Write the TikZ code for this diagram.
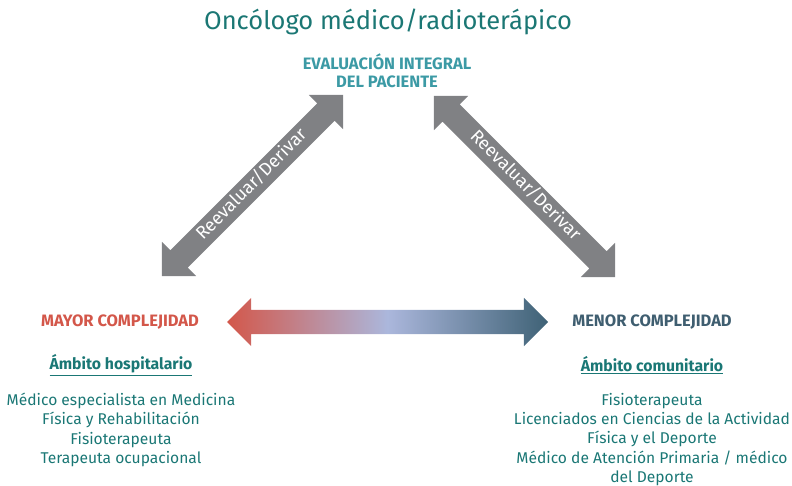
\documentclass[tikz,border=0pt]{standalone}
\usepackage{fontspec}
\setmainfont{Fira Sans}
\usetikzlibrary{shapes.arrows}

\definecolor{titleteal}{HTML}{1B7774}
\definecolor{headteal}{HTML}{3C9AA5}
\definecolor{listteal}{HTML}{1A7775}
\definecolor{mayorred}{HTML}{D3574A}
\definecolor{menorslate}{HTML}{3F5E70}
\definecolor{arrowgray}{HTML}{808184}
\definecolor{midlilac}{HTML}{ABB7DC}
\definecolor{endslate}{HTML}{3F6276}

\begin{document}
\begin{tikzpicture}[x=1pt,y=-1pt,
    label/.style={align=center,inner sep=0pt},
    bigarrow/.style={shape=double arrow,inner xsep=0pt,inner ysep=4pt,minimum width=0pt,
        text height=12pt,text depth=4pt,double arrow head extend=12pt},
    grayarrow/.style={bigarrow,fill=arrowgray,minimum height=256pt,
        text=white,font=\fontsize{18}{18}\selectfont},
    listtext/.style={label,text=listteal,font=\fontsize{15.6}{19.3}\selectfont}]
    \useasboundingbox (0,0) rectangle (792,486);

    \node[label,text=titleteal,font=\fontsize{25.5}{25.5}\selectfont] (title) at (388,22) {Oncólogo médico/radioterápico};
    \node[label,text=headteal,font=\bfseries\fontsize{16.5}{18}\selectfont] (eval) at (387,71) {EVALUACIÓN INTEGRAL\\DEL PACIENTE};

    % diagonal arrows
    \node[grayarrow,rotate=45] (left) at (252.5,185.5) {Reevaluar/Derivar};
    \node[grayarrow,rotate=-45] (right) at (524.5,186.5) {Reevaluar/Derivar};

    % gradient arrow
    \node[bigarrow,inner ysep=0pt,text height=12pt,text depth=12pt,minimum height=321pt,
        left color=mayorred,right color=endslate,middle color=midlilac] (grad) at (387.5,322) {};

    \node[label,text=mayorred,font=\bfseries\fontsize{16.5}{16}\selectfont] (mayor) at (120,322) {MAYOR COMPLEJIDAD};
    \node[label,text=menorslate,font=\bfseries\fontsize{16.5}{16}\selectfont] (menor) at (652,322) {MENOR COMPLEJIDAD};

    \node[label,text=listteal,font=\bfseries\fontsize{15.8}{16}\selectfont] (hosp) at (121,365) {\underline{Ámbito hospitalario}};
    \node[label,text=listteal,font=\bfseries\fontsize{15.8}{16}\selectfont] (comu) at (652,365) {\underline{Ámbito comunitario}};

    \node[listtext,anchor=north] (hlist) at (121,393) {Médico especialista en Medicina\\Física y Rehabilitación\\Fisioterapeuta\\Terapeuta ocupacional};
    \node[listtext,anchor=north] (clist) at (652,393) {Fisioterapeuta\\Licenciados en Ciencias de la Actividad\\Física y el Deporte\\Médico de Atención Primaria / médico\\del Deporte};
\end{tikzpicture}
\end{document}
